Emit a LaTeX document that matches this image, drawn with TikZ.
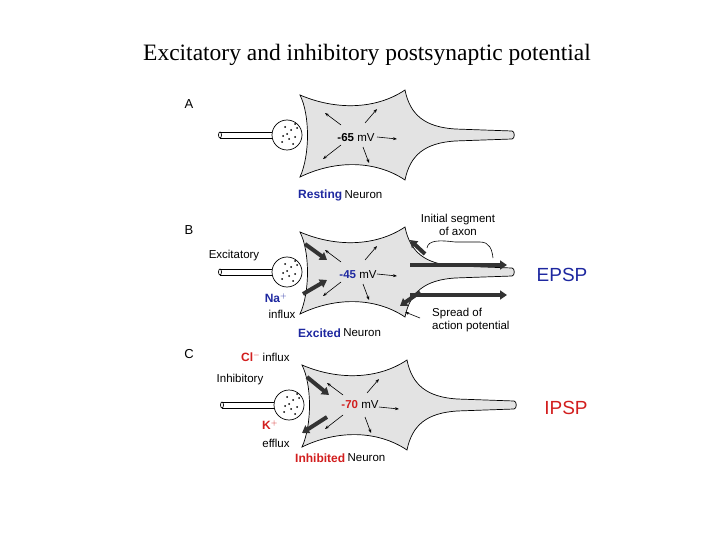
\documentclass[tikz,border=0pt]{standalone}
\usepackage{fontspec}
\setmainfont{Liberation Serif}
\newfontfamily\sans{Liberation Sans}
\usetikzlibrary{arrows.meta}
\tikzset{
  lab/.style={font=\sans\fontsize{11.5}{13}\selectfont, inner sep=1pt},
  panel/.style={font=\sans\fontsize{13}{14}\selectfont, inner sep=0pt},
  hand/.style={font=\sans\bfseries\fontsize{12}{13}\selectfont, inner sep=1pt},
  big/.style={font=\sans\fontsize{19}{20}\selectfont, inner sep=0pt},
  thin/.style={-{Stealth[length=4pt]}, line width=0.6pt},
  thick/.style={-{Triangle[length=7pt,width=9pt]}, line width=4pt, black!80},
  body/.style={draw, line width=0.7pt, fill=gray!22},
}
\definecolor{hblue}{RGB}{30,40,160}
\definecolor{hred}{RGB}{210,30,30}
\newcommand{\neuronshape}{%
  \draw[line width=0.7pt] (-135,-3) -- (-80,-3) (-135,3) -- (-80,3);
  \draw[line width=0.7pt] (-135,0) ellipse (1.5 and 3);
  \path[body] (-55,-40) .. controls (-20,-25) and (20,-25) .. (50,-45)
     .. controls (55,-20) and (70,-8) .. (100,-6) -- (157,-4)
     .. controls (160,-4) and (160,4) .. (157,4) -- (100,6)
     .. controls (70,8) and (55,20) .. (50,45)
     .. controls (20,25) and (-20,25) .. (-55,42)
     .. controls (-45,20) and (-45,-20) .. (-55,-40) -- cycle;
  \draw[line width=0.7pt, fill=white] (-68,0) circle (15);
  \foreach \p in {(-70,-8),(-64,-5),(-60,2),(-66,4),(-72,1),(-62,9),(-68,-1),(-58,-7),(-73,7),(-60,-11)}
    \fill \p circle (1);
  \draw[thin] (-14,-10) -- (-30,-22);
  \draw[thin] (10,-12) -- (22,-26);
  \draw[thin] (-14,10) -- (-32,24);
  \draw[thin] (8,12) -- (14,28);
}
\begin{document}
\begin{tikzpicture}[x=1pt,y=-1pt]
\useasboundingbox (0,0) rectangle (720,540);
\node[font=\fontsize{23.5}{26}\selectfont] (title) at (367,55) {Excitatory and inhibitory postsynaptic potential};

% Panel A
\node[panel] (A) at (189,104) {A};
\begin{scope}[shift={(355,135)}]
  \neuronshape
  \draw[thin] (22,2) -- (42,4);
\end{scope}
\node[lab] (mvA) at (356,138) {\textbf{-65} mV};
\node[hand, text=hblue, anchor=west] (rest) at (297,195) {Resting};
\node[lab, anchor=west] (restn) at (rest.east) {Neuron};

% Panel B
\node[panel] (B) at (189,230) {B};
\begin{scope}[shift={(355,272)}]
  \neuronshape
  \draw[thick] (-50,-28) -- (-28,-12);
  \draw[thick] (-52,22) -- (-28,8);
  \draw[thick] (70,-18) -- (55,-32);
  \draw[thick] (65,20) -- (45,34);
  \draw[thick] (55,-7) -- (152,-7);
  \draw[thick] (55,23) -- (152,23);
  \draw[thin] (22,2) -- (42,4);
\end{scope}
\node[lab, align=center] (init) at (458,225) {Initial segment\\of axon};
\draw[line width=0.6pt] (427,248) .. controls (428,240) and (440,240) .. (455,242) -- (480,242) .. controls (490,242) and (492,250) .. (493,258);
\node[lab] (exc) at (234,256) {Excitatory};
\node[lab, text=hblue] (mvB) at (358,275) {\textbf{-45} \textcolor{black}{mV}};
\node[big, text=hblue] (epsp) at (562,275) {EPSP};
\node[hand, text=hblue] (na) at (276,298) {Na$^{+}$};
\node[lab] (influx) at (282,314) {influx};
\node[lab, align=left, anchor=west] (spread) at (431,320) {Spread of\\action potential};
\draw[thin] (420,318) -- (405,312);
\node[hand, text=hblue, anchor=west] (exct) at (297,333) {Excited};
\node[lab, anchor=west] (excn) at (exct.east) {Neuron};

% Panel C
\node[panel] (C) at (189,354) {C};
\begin{scope}[shift={(357,405)}]
  \neuronshape
  \draw[thick] (-50,-28) -- (-28,-10);
  \draw[thick] (-30,12) -- (-55,28);
  \draw[thin] (22,2) -- (42,4);
\end{scope}
\node[hand, text=hred, anchor=west] (cl) at (240,357) {Cl$^{-}$};
\node[lab, anchor=west] (clin) at (cl.east) {influx};
\node[lab] (inh) at (240,380) {Inhibitory};
\node[lab, text=hred] (mvC) at (360,405) {\textbf{-70} \textcolor{black}{mV}};
\node[big, text=hred] (ipsp) at (566,408) {IPSP};
\node[hand, text=hred] (k) at (270,425) {K$^{+}$};
\node[lab] (efflux) at (276,443) {efflux};
\node[hand, text=hred, anchor=west] (inht) at (294,458) {Inhibited};
\node[lab, anchor=west] (inhn) at (inht.east) {Neuron};
\end{tikzpicture}
\end{document}
